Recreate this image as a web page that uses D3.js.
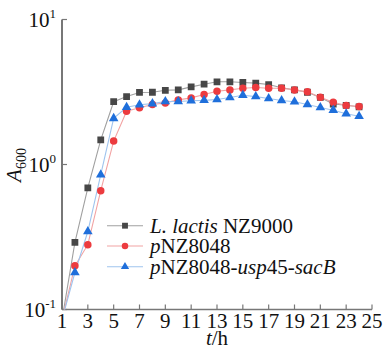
<!DOCTYPE html>
<html><head><meta charset="utf-8">
<script src="https://cdn.jsdelivr.net/npm/d3@7/dist/d3.min.js"></script>
</head><body style="margin:0"><svg id="c" width="385" height="349"></svg>
<script>
const hours = [1,2,3,4,5,6,7,8,9,10,11,12,13,14,15,16,17,18,19,20,21,22,23,24];
const nz9000 = [0.085,0.29,0.69,1.48,2.71,2.94,3.14,3.15,3.25,3.27,3.43,3.58,3.72,3.72,3.68,3.64,3.56,3.38,3.27,3.15,2.90,2.61,2.56,2.50];
const pnz8048 = [0.085,0.20,0.28,0.66,1.45,2.33,2.46,2.59,2.66,2.79,2.88,3.04,3.20,3.27,3.36,3.40,3.36,3.36,3.27,3.17,2.91,2.69,2.55,2.51];
const pnzSacB = [0.085,0.18,0.345,0.85,2.08,2.48,2.58,2.63,2.72,2.72,2.75,2.77,2.81,2.90,3.00,2.94,2.85,2.76,2.71,2.59,2.47,2.37,2.24,2.15];
const seriesNames = ["L. lactis|NZ9000","p|NZ8048","p|NZ8048-|usp|45-|sacB"];
const xTicks = [1,3,5,7,9,11,13,15,17,19,21,23,25];
const yTicks = [0.1,1,10];
const yExp = ["-1","0","1"];

const svg = d3.select("#c");
const FF = "Liberation Serif";
const x = d3.scaleLinear().domain([1,25]).range([62,372]);
const y = d3.scaleLog().domain([0.1,10]).range([309.5,19.5]);
const axisColor = "#777";

// axis lines and ticks drawn from scales
const gx = svg.append("g");
gx.append("line").attr("x1",x(1)).attr("x2",x(25)).attr("y1",y(0.1)).attr("y2",y(0.1))
  .attr("stroke",axisColor).attr("stroke-width",1.6);
gx.selectAll("line.t").data(xTicks).join("line").attr("class","t")
  .attr("x1",d=>x(d)).attr("x2",d=>x(d)).attr("y1",y(0.1)).attr("y2",y(0.1)-5)
  .attr("stroke",axisColor).attr("stroke-width",1.2);
const gy = svg.append("g");
gy.append("line").attr("x1",x(1)).attr("x2",x(1)).attr("y1",y(0.1)).attr("y2",y(10))
  .attr("stroke",axisColor).attr("stroke-width",2);
gy.selectAll("line.t").data(yTicks).join("line").attr("class","t")
  .attr("x1",x(1)).attr("x2",x(1)+5).attr("y1",d=>y(d)).attr("y2",d=>y(d))
  .attr("stroke",axisColor).attr("stroke-width",1.2);

svg.selectAll("text.xt").data(xTicks).join("text").attr("class","xt")
  .attr("x",d=>x(d)).attr("y",327.5).attr("text-anchor","middle")
  .style("font-family",FF).attr("font-size",21).attr("fill","#111").text(d=>d);
svg.selectAll("text.yt").data(yTicks).join("text").attr("class","yt")
  .attr("x",56).attr("y",d=>y(d)+7.5).attr("text-anchor","end")
  .style("font-family",FF).attr("font-size",21).attr("fill","#111")
  .each(function(d,i){
    const t = d3.select(this);
    t.append("tspan").text("10");
    t.append("tspan").attr("dy",-9).attr("font-size",13).text(yExp[i]);
  });
const ytl = svg.append("text").attr("transform","translate(21,165) rotate(-90)")
  .attr("text-anchor","middle").style("font-family",FF).attr("font-size",21).attr("fill","#111");
ytl.append("tspan").attr("font-style","italic").text("A");
ytl.append("tspan").attr("dy",5).attr("font-size",14).text("600");
const xtl = svg.append("text").attr("x",217).attr("y",345).attr("text-anchor","middle")
  .style("font-family",FF).attr("font-size",21).attr("fill","#111");
xtl.append("tspan").attr("font-style","italic").text("t");
xtl.append("tspan").text("/h");

svg.append("defs").append("clipPath").attr("id","clip")
  .append("rect").attr("x",62).attr("y",19.5).attr("width",320).attr("height",290);

const series = [
  {vals:nz9000, line:"#a0a0a0", mark:"#474747", sym:d3.symbolSquare, size:46},
  {vals:pnz8048, line:"#f2a3a3", mark:"#ec3b3f", sym:d3.symbolCircle, size:44},
  {vals:pnzSacB, line:"#9fc4ee", mark:"#1f6fdb", sym:d3.symbolTriangle, size:40}
];
const line = d3.line().x((d,i)=>x(hours[i])).y(d=>y(d));
const plot = svg.append("g").attr("clip-path","url(#clip)");
series.forEach(s=>{
  plot.append("path").attr("d",line(s.vals)).attr("fill","none")
    .attr("stroke",s.line).attr("stroke-width",1.1);
});
series.forEach(s=>{
  plot.append("g").selectAll("path").data(s.vals).join("path")
    .attr("transform",(d,i)=>`translate(${x(hours[i])},${y(d)})`)
    .attr("d",d3.symbol().type(s.sym).size(s.size)).attr("fill",s.mark);
});

const legY = [225.7,246,266.7];
series.forEach((s,i)=>{
  const g = svg.append("g");
  g.append("line").attr("x1",107).attr("x2",143).attr("y1",legY[i]).attr("y2",legY[i])
    .attr("stroke",s.line).attr("stroke-width",1.1);
  g.append("path").attr("transform",`translate(125,${legY[i]})`)
    .attr("d",d3.symbol().type(s.sym).size(s.size*0.75)).attr("fill",s.mark);
  const t = g.append("text").attr("x",150).attr("y",legY[i]+7)
    .style("font-family",FF).attr("font-size",21).attr("fill","#111");
  const parts = seriesNames[i].split("|");
  parts.forEach((p,j)=>{
    let ital = (i<2) ? j===0 : (j===0||j===2||j===4);
    t.append("tspan").attr("font-style",ital?"italic":"normal").text(i===0&&j===0?p+" ":p);
  });
});
</script></body></html>
